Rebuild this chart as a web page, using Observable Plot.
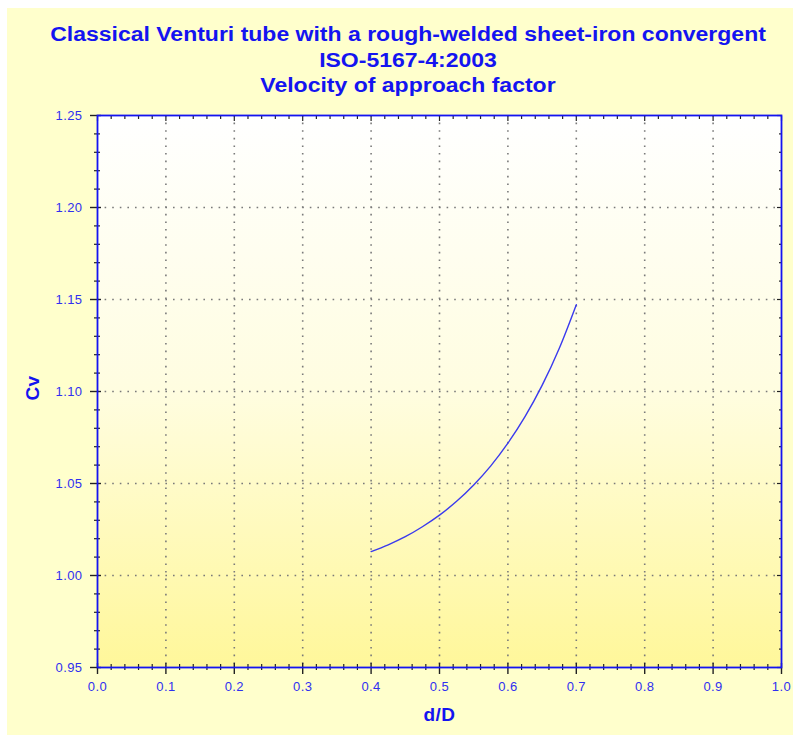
<!DOCTYPE html>
<html><head><meta charset="utf-8">
<script src="https://cdn.jsdelivr.net/npm/d3@7"></script>
<script src="https://cdn.jsdelivr.net/npm/@observablehq/plot@0.6"></script>
<style>
body{margin:0;background:#fff;}
#panel{position:absolute;left:7px;top:8px;width:786px;height:727px;background:#FFFFCC;font-family:"Liberation Sans",Arial,sans-serif;}
#title{position:absolute;left:16px;top:14px;width:770px;text-align:center;color:#1414F0;font-weight:bold;font-size:20px;line-height:25.5px;transform:scaleX(1.15);transform-origin:center;}
#chart{position:absolute;left:0;top:100px;}
</style></head>
<body>
<div id="panel">
  <div id="title">Classical Venturi tube with a rough-welded sheet-iron convergent<br>ISO-5167-4:2003<br>Velocity of approach factor</div>
  <div id="chart"></div>
</div>
<script>
// Data
const beta = [0.400, 0.425, 0.450, 0.475, 0.500, 0.525, 0.550, 0.575, 0.600, 0.625, 0.650, 0.675, 0.700];
const cv   = [1.0130, 1.0167, 1.0211, 1.0265, 1.0328, 1.0403, 1.0492, 1.0596, 1.0719, 1.0863, 1.1033, 1.1234, 1.1472];

const xMajor = [0, 0.1, 0.2, 0.3, 0.4, 0.5, 0.6, 0.7, 0.8, 0.9, 1.0];
const xLabels = ["0.0","0.1","0.2","0.3","0.4","0.5","0.6","0.7","0.8","0.9","1.0"];
const yMajor = [0.95, 1.00, 1.05, 1.10, 1.15, 1.20, 1.25];
const yLabels = ["0.95","1.00","1.05","1.10","1.15","1.20","1.25"];
const xMinor = d3.range(0, 51).map(i => i / 50).filter((v, i) => i % 5 !== 0);
const yMinor = d3.range(0, 31).map(i => 0.95 + i / 100).filter((v, i) => i % 5 !== 0);
const xGrid = [0.1, 0.2, 0.3, 0.4, 0.5, 0.6, 0.7, 0.8, 0.9];
const yGrid = [1.00, 1.05, 1.10, 1.15, 1.20];

const xTitle = "d/D";
const yTitle = "Cv";

const blue = "#1414F0";
const labelBlue = "#3030F0";
const data = beta.map((b, i) => ({b, c: cv[i]}));

const chart = Plot.plot({
  width: 786,
  height: 619,
  marginLeft: 90,
  marginRight: 12,
  marginTop: 7,
  marginBottom: 60,
  style: {background: "none", fontFamily: "'Liberation Sans', Arial, sans-serif", fontSize: "13px", letterSpacing: "0.4px", color: "black", overflow: "visible"},
  x: {domain: [0, 1], axis: null},
  y: {domain: [0.95, 1.25], axis: null},
  marks: [
    Plot.frame({fill: "url(#bgGrad)", stroke: "none"}),
    Plot.gridX(xGrid, {stroke: "#7a7a7a", strokeOpacity: 1, strokeWidth: 1.6, strokeDasharray: "1.6,6"}),
    Plot.gridY(yGrid, {stroke: "#7a7a7a", strokeOpacity: 1, strokeWidth: 1.6, strokeDasharray: "1.6,6"}),
    Plot.line(data, {x: "b", y: "c", stroke: "#3a3aee", strokeWidth: 1.4, curve: "catmull-rom"}),
    // bottom axis ticks
    Plot.axisX({anchor: "bottom", ticks: xMajor, tickSize: 11, dy: -4, fill: "none", label: null, stroke: "#222", strokeWidth: 1.4}),
    Plot.axisX({anchor: "bottom", ticks: xMinor, tickSize: 6, dy: -3, fill: "none", label: null, stroke: "#222", strokeWidth: 1.2}),
    Plot.axisX({anchor: "bottom", ticks: xMajor, tickFormat: (d, i) => xLabels[i], tickSize: 0, tickPadding: 14, fill: labelBlue, label: null}),
    // top axis ticks (inward)
    Plot.axisX({anchor: "top", ticks: xMajor, tickSize: 5, dy: 5, fill: "none", label: null, stroke: "#222", strokeWidth: 1.2}),
    Plot.axisX({anchor: "top", ticks: xMinor, tickSize: 3, dy: 3, fill: "none", label: null, stroke: "#222", strokeWidth: 1.2}),
    // left axis ticks
    Plot.axisY({anchor: "left", ticks: yMajor, tickSize: 11, dx: 4, fill: "none", label: null, stroke: "#222", strokeWidth: 1.4}),
    Plot.axisY({anchor: "left", ticks: yMinor, tickSize: 6, dx: 3, fill: "none", label: null, stroke: "#222", strokeWidth: 1.2}),
    Plot.axisY({anchor: "left", ticks: yMajor, tickFormat: (d, i) => yLabels[i], tickSize: 0, tickPadding: 15, fill: labelBlue, label: null}),
    // right axis ticks (inward)
    Plot.axisY({anchor: "right", ticks: yMajor, tickSize: 5, dx: -5, fill: "none", label: null, stroke: "#222", strokeWidth: 1.2}),
    Plot.axisY({anchor: "right", ticks: yMinor, tickSize: 3, dx: -3, fill: "none", label: null, stroke: "#222", strokeWidth: 1.2}),
    Plot.frame({stroke: blue, strokeWidth: 1.8}),
    Plot.text([xTitle], {frameAnchor: "bottom", dy: 53, text: d => d, fill: blue, fontWeight: "bold", fontSize: 19}),
    Plot.text([yTitle], {frameAnchor: "left", dx: -65, dy: 9, rotate: -90, text: d => d, fill: blue, fontWeight: "bold", fontSize: 19})
  ]
});

const ns = "http://www.w3.org/2000/svg";
const defs = document.createElementNS(ns, "defs");
defs.innerHTML = '<linearGradient id="bgGrad" x1="0" y1="0" x2="0" y2="1"><stop offset="0" stop-color="#ffffff"/><stop offset="0.5" stop-color="#fffde0"/><stop offset="1" stop-color="#fff79a"/></linearGradient>';
chart.insertBefore(defs, chart.firstChild);
document.getElementById("chart").appendChild(chart);
</script>
</body></html>
